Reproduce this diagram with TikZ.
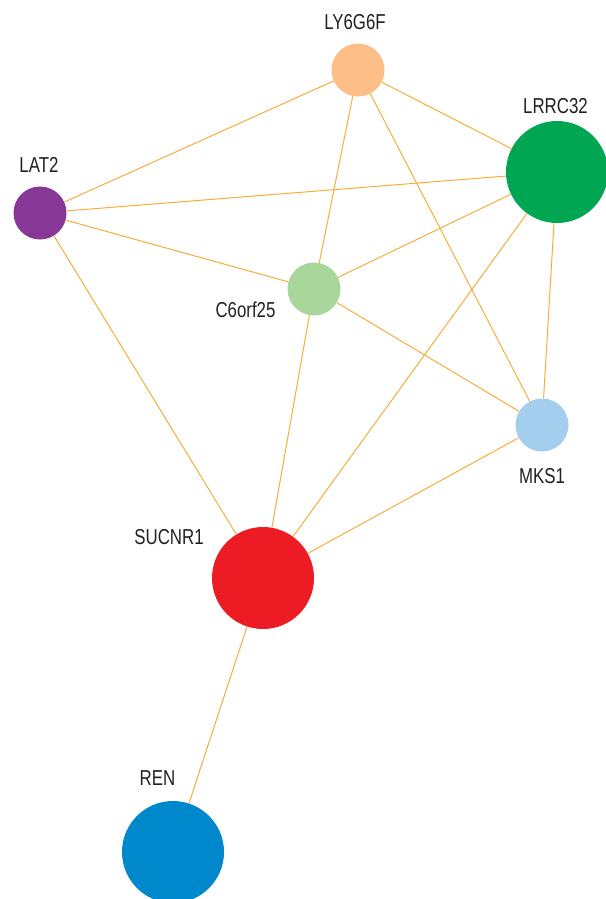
\documentclass[tikz,border=0pt]{standalone}
\usepackage{fontspec}
\setmainfont{Liberation Sans}
\definecolor{edgec}{HTML}{F8AC3C}
\definecolor{cLY}{HTML}{FDBF87}
\definecolor{cLR}{HTML}{00A651}
\definecolor{cLA}{HTML}{873896}
\definecolor{cC6}{HTML}{A9D69B}
\definecolor{cMK}{HTML}{A3CEEE}
\definecolor{cSU}{HTML}{ED1C24}
\definecolor{cRE}{HTML}{0088CC}
\definecolor{txt}{HTML}{231F20}
\newcommand{\glbl}[1]{\scalebox{0.78}[1]{#1}}
\begin{document}
\begin{tikzpicture}[x=1pt,y=-1pt,
  gene/.style={circle,inner sep=0pt,draw=none},
  small/.style={gene,minimum size=53pt},
  big/.style={gene,minimum size=102pt},
  lbl/.style={inner sep=0pt,text=txt,font=\fontsize{21.6}{24}\selectfont},
  link/.style={draw=edgec,line width=1pt}]
\useasboundingbox (0,0) rectangle (605,899);
\node[small,fill=cLY] (ly) at (358,70) {};
\node[big,fill=cLR] (lr) at (557,172) {};
\node[small,fill=cLA] (la) at (40,213) {};
\node[small,fill=cC6] (c6) at (314,289) {};
\node[small,fill=cMK] (mk) at (542,425) {};
\node[big,fill=cSU] (su) at (263,578) {};
\node[big,fill=cRE] (re) at (173,852) {};
\node[lbl] (lyl) at (355,22.5) {\glbl{LY6G6F}};
\node[lbl] (lrl) at (555.5,106.5) {\glbl{LRRC32}};
\node[lbl] (lal) at (39,165) {\glbl{LAT2}};
\node[lbl] (c6l) at (245.5,310) {\glbl{C6orf25}};
\node[lbl] (mkl) at (542,476) {\glbl{MKS1}};
\node[lbl] (sul) at (169,537) {\glbl{SUCNR1}};
\node[lbl] (rel) at (157.5,778) {\glbl{REN}};
\draw[link] (ly) -- (la);
\draw[link] (ly) -- (lr);
\draw[link] (ly) -- (c6);
\draw[link] (ly) -- (mk);
\draw[link] (la) -- (lr);
\draw[link] (la) -- (c6);
\draw[link] (la) -- (su);
\draw[link] (lr) -- (c6);
\draw[link] (lr) -- (mk);
\draw[link] (lr) -- (su);
\draw[link] (c6) -- (mk);
\draw[link] (c6) -- (su);
\draw[link] (mk) -- (su);
\draw[link] (su) -- (re);
\end{tikzpicture}
\end{document}
